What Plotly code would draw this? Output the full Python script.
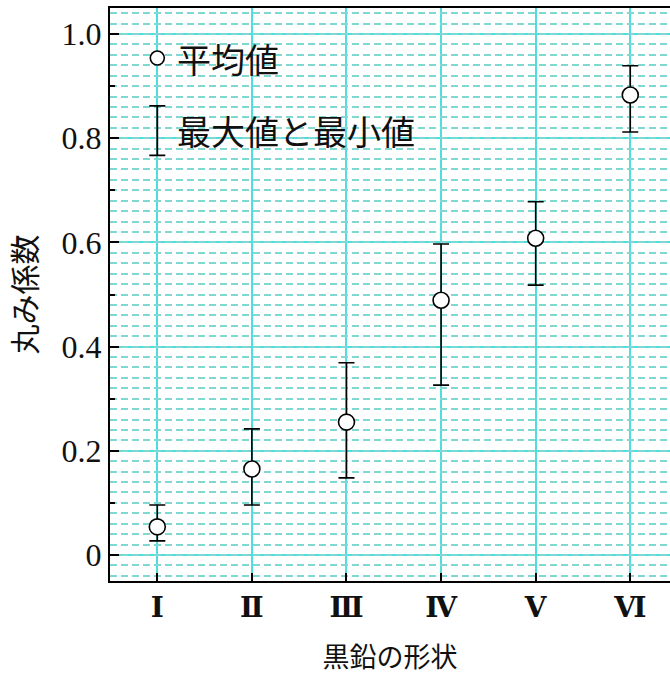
import plotly.graph_objects as go

categories = ["Ⅰ", "Ⅱ", "Ⅲ", "Ⅳ", "Ⅴ", "Ⅵ"]
mean_vals = [0.054, 0.165, 0.255, 0.489, 0.608, 0.883]
max_vals = [0.096, 0.242, 0.369, 0.597, 0.678, 0.939]
min_vals = [0.027, 0.096, 0.148, 0.326, 0.518, 0.812]

legend_labels = ["平均値", "最大値と最小値"]
legend_circle_y = 0.954
legend_bar_y = [0.767, 0.862]

x_title = "黒鉛の形状"
y_title = "丸み係数"

xs = list(range(len(categories)))
err_plus = [mx - m for mx, m in zip(max_vals, mean_vals)]
err_minus = [m - mn for mn, m in zip(min_vals, mean_vals)]

grid_major = "#4fdede"
grid_minor = "#80d8d2"
yr = [-0.05, 1.05]

fig = go.Figure()

# helper traces to activate overlay axes
fig.add_trace(go.Scatter(x=[None], y=[None], yaxis="y2", showlegend=False))
fig.add_trace(go.Scatter(x=[None], y=[None], yaxis="y3", showlegend=False))

fig.add_trace(go.Scatter(
    x=xs, y=mean_vals, mode="markers",
    marker=dict(symbol="circle", size=16, color="white",
                line=dict(color="black", width=1.6)),
    error_y=dict(type="data", symmetric=False, array=err_plus, arrayminus=err_minus,
                 color="black", thickness=1.6, width=8),
    showlegend=False, hoverinfo="skip",
))

# legend keys
bar_mid = (legend_bar_y[0] + legend_bar_y[1]) / 2
fig.add_trace(go.Scatter(
    x=[0], y=[bar_mid], mode="markers",
    marker=dict(size=1, color="rgba(0,0,0,0)"),
    error_y=dict(type="data", array=[legend_bar_y[1] - bar_mid], color="black",
                 thickness=1.8, width=8),
    showlegend=False, hoverinfo="skip",
))
fig.add_trace(go.Scatter(
    x=[0], y=[legend_circle_y], mode="markers",
    marker=dict(symbol="circle", size=14, color="white",
                line=dict(color="black", width=1.6)),
    showlegend=False, hoverinfo="skip",
))

fig.add_annotation(x=0.19, y=legend_circle_y, xref="x", yref="y", text=legend_labels[0],
                   showarrow=False, xanchor="left", yanchor="middle",
                   font=dict(family="Noto Sans CJK JP", size=34, color="#111"))
fig.add_annotation(x=0.19, y=bar_mid, xref="x", yref="y", text=legend_labels[1],
                   showarrow=False, xanchor="left", yanchor="middle",
                   font=dict(family="Noto Sans CJK JP", size=34, color="#111"))

fig.update_layout(
    template="none",
    width=670, height=675,
    margin=dict(l=110, r=0, t=8, b=94),
    paper_bgcolor="white", plot_bgcolor="white",
    xaxis=dict(
        range=[-0.5, 5.42], tickvals=xs, ticktext=["<b>%s</b>" % c for c in categories],
        ticks="inside", ticklen=8, tickwidth=2, tickcolor="black",
        showgrid=True, gridcolor=grid_major, gridwidth=1.5,
        showline=True, linecolor="black", linewidth=2, mirror=True,
        zeroline=False, automargin=False,
        tickfont=dict(family="DejaVu Serif", size=28, color="#111"),
        title=dict(text=x_title, font=dict(family="Noto Sans CJK JP", size=27, color="#111"),
                   standoff=28),
    ),
    yaxis2=dict(
        overlaying="y", side="left", range=yr, tick0=0, dtick=0.02,
        showgrid=True, gridcolor=grid_minor, gridwidth=2, griddash="7px,4px",
        ticks="", showticklabels=False, zeroline=False, showline=False, automargin=False,
    ),
    yaxis=dict(
        range=yr, tickvals=[0, 0.2, 0.4, 0.6, 0.8, 1.0],
        ticktext=["0", "0.2", "0.4", "0.6", "0.8", "1.0"],
        ticks="inside", ticklen=9, tickwidth=2, tickcolor="black",
        showgrid=True, gridcolor=grid_major, gridwidth=1.5,
        showline=True, linecolor="black", linewidth=2,
        zeroline=False, automargin=False,
        tickfont=dict(family="Liberation Serif", size=32, color="#111"),
        title=dict(text=y_title, font=dict(family="Noto Sans CJK JP", size=30, color="#111"),
                   standoff=16),
    ),
    yaxis3=dict(
        overlaying="y", side="left", range=yr,
        tickvals=[0.1, 0.3, 0.5, 0.7, 0.9], ticks="inside", ticklen=5, tickwidth=2,
        tickcolor="black", showticklabels=False, showgrid=False, zeroline=False,
        showline=False, automargin=False,
    ),
)

fig.write_html("out.html", config={"displayModeBar": False},
               post_script="document.body.style.margin='0';")
